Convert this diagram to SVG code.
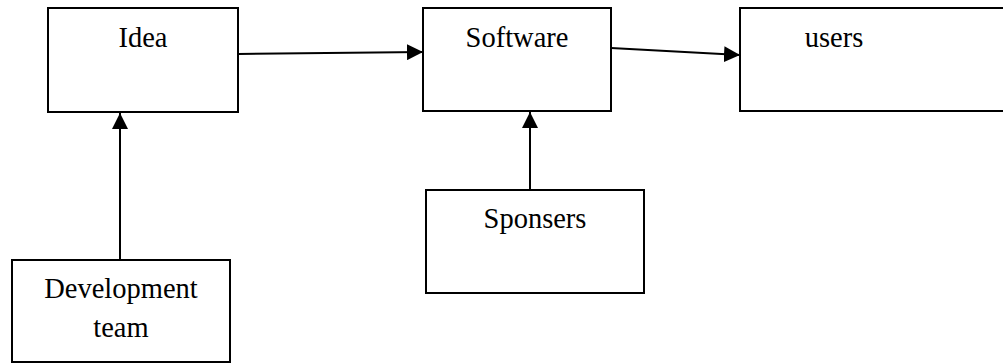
<svg xmlns="http://www.w3.org/2000/svg" width="1003" height="364" viewBox="0 0 1003 364">
  <defs>
    <marker id="arrow" viewBox="0 0 10 10" refX="10" refY="5" markerWidth="8" markerHeight="8" orient="auto" markerUnits="strokeWidth">
      <path d="M0,0 L10,5 L0,10 z" fill="#000"/>
    </marker>
  </defs>
  <style>
    .box { fill: #fff; stroke: #000; stroke-width: 2; }
    text { font-family: 'Liberation Serif', 'Times New Roman', Times, 'DejaVu Serif', serif; font-size: 28.5px; fill: #000; text-anchor: middle; }
    .edge { fill: none; stroke: #000; stroke-width: 2; marker-end: url(#arrow); }
  </style>
  <rect width="1003" height="364" fill="#fff"/>

  <g id="connectors">
    <line class="edge" x1="238" y1="54" x2="423" y2="52"/>
    <line class="edge" x1="611" y1="48" x2="740" y2="55"/>
    <line class="edge" x1="120" y1="260" x2="120" y2="113"/>
    <line class="edge" x1="530" y1="190" x2="530" y2="112"/>
  </g>

  <g id="idea">
    <rect class="box" x="48" y="8" width="190" height="104"/>
    <text x="143" y="47" font-family="Liberation Serif, serif">Idea</text>
  </g>

  <g id="software">
    <rect class="box" x="423" y="8" width="188" height="103"/>
    <text x="517" y="47" font-family="Liberation Serif, serif">Software</text>
  </g>

  <g id="users">
    <rect class="box" x="740" y="8" width="280" height="103"/>
    <text x="834" y="47" font-family="Liberation Serif, serif">users</text>
  </g>

  <g id="development-team">
    <rect class="box" x="12" y="260" width="218" height="102"/>
    <text x="121" y="298" font-family="Liberation Serif, serif">Development</text>
    <text x="121" y="337" font-family="Liberation Serif, serif">team</text>
  </g>

  <g id="sponsers">
    <rect class="box" x="426" y="190" width="218" height="103"/>
    <text x="535" y="228" font-family="Liberation Serif, serif">Sponsers</text>
  </g>
</svg>
